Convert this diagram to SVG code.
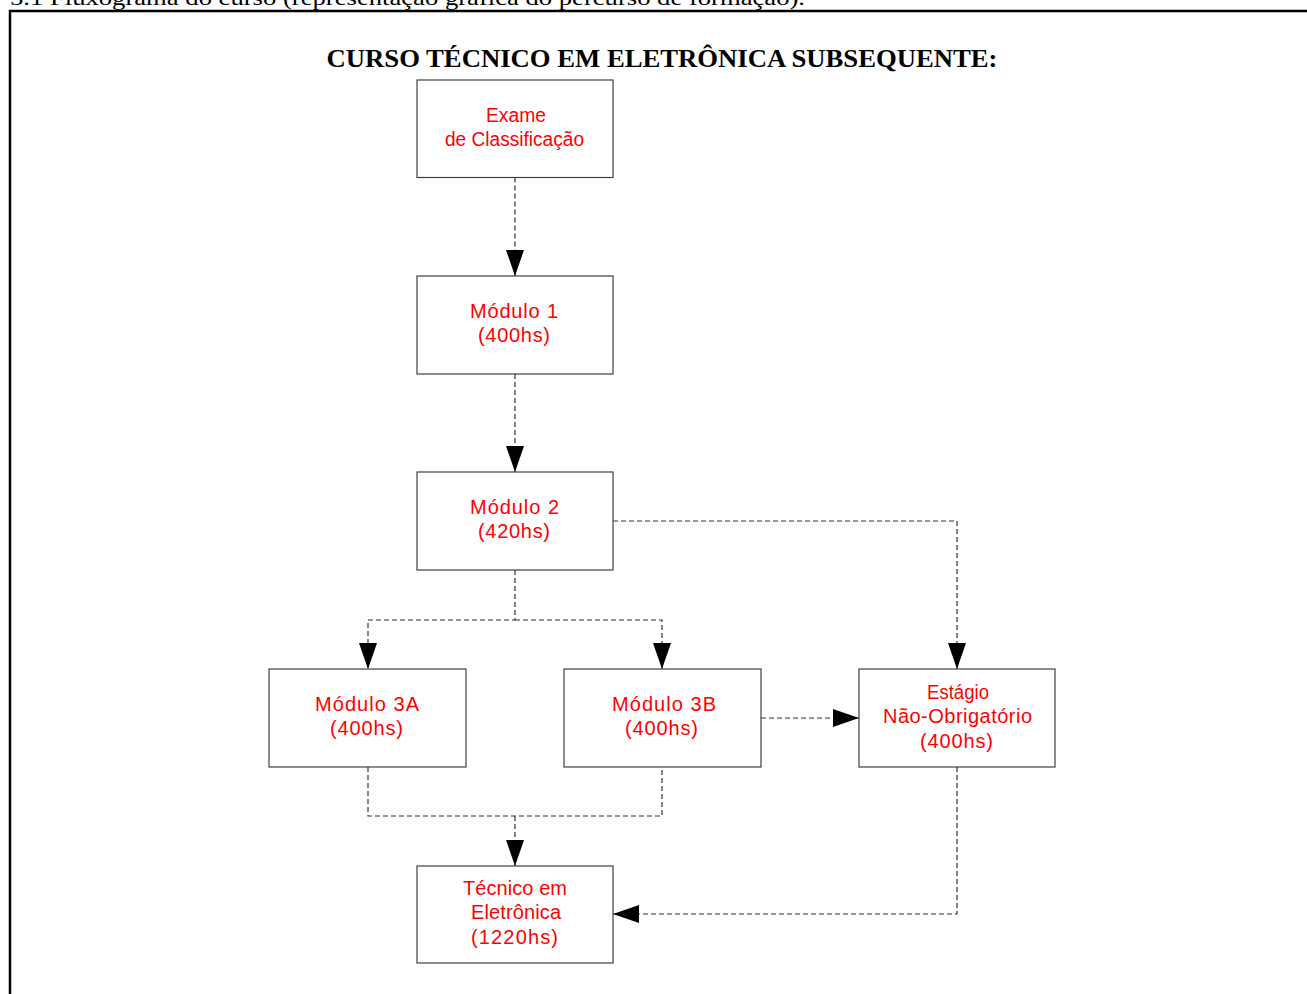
<svg xmlns="http://www.w3.org/2000/svg" width="1307" height="994" viewBox="0 0 1307 994">
<style>
.box{fill:#fff;stroke:#404040;stroke-width:1.2}
.lbl{font-family:"Liberation Sans",Arial,sans-serif;font-size:20px;fill:#ff0000;text-anchor:middle}
.con{fill:none;stroke:#333;stroke-width:1.2;stroke-dasharray:5,3}
</style>
<defs>
<marker id="arr" viewBox="0 0 26 18" refX="26" refY="9" markerWidth="26" markerHeight="18" markerUnits="userSpaceOnUse" orient="auto">
<path d="M0,0 L26,9 L0,18 Z" fill="#000"/>
</marker>
</defs>
<rect width="1307" height="994" fill="#fff"/>
<text x="10" y="5" font-family="'Liberation Serif','Times New Roman',serif" font-size="22" textLength="795" lengthAdjust="spacingAndGlyphs" fill="#000">5.1 Fluxograma do curso (representação gráfica do percurso de formação).</text>
<path d="M10,994 V11 H1307" fill="none" stroke="#000" stroke-width="2.5"/>
<text x="662" y="67" font-family="'Liberation Serif','Times New Roman',serif" font-size="26" font-weight="bold" text-anchor="middle" textLength="671" lengthAdjust="spacingAndGlyphs" fill="#000">CURSO TÉCNICO EM ELETRÔNICA SUBSEQUENTE:</text>
<g id="connectors">
<path class="con" d="M515,177.5 V276" marker-end="url(#arr)"/>
<path class="con" d="M515,374 V472" marker-end="url(#arr)"/>
<path class="con" d="M613,521 H957 V669" marker-end="url(#arr)"/>
<path class="con" d="M515,570 V620 H368 V669" marker-end="url(#arr)"/>
<path class="con" d="M515,620 H662 V669" marker-end="url(#arr)"/>
<path class="con" d="M761,718 H859" marker-end="url(#arr)"/>
<path class="con" d="M368,767 V816 H662 V767"/>
<path class="con" d="M515,816 V866" marker-end="url(#arr)"/>
<path class="con" d="M957,767 V914 H613" marker-end="url(#arr)"/>
</g>
<g id="exame">
<rect class="box" x="417" y="80" width="196" height="97.5"/>
<text class="lbl" x="516" y="122" textLength="60" lengthAdjust="spacingAndGlyphs">Exame</text>
<text class="lbl" x="514.5" y="146" textLength="139" lengthAdjust="spacingAndGlyphs">de Classificação</text>
</g>
<g id="modulo1">
<rect class="box" x="417" y="276" width="196" height="98"/>
<text class="lbl" x="514" y="318" textLength="88">Módulo 1</text>
<text class="lbl" x="514" y="342" textLength="72">(400hs)</text>
</g>
<g id="modulo2">
<rect class="box" x="417" y="472" width="196" height="98"/>
<text class="lbl" x="514.5" y="514" textLength="89">Módulo 2</text>
<text class="lbl" x="514" y="538" textLength="72">(420hs)</text>
</g>
<g id="modulo3a">
<rect class="box" x="269" y="669" width="197" height="98"/>
<text class="lbl" x="367" y="711" textLength="104">Módulo 3A</text>
<text class="lbl" x="366.5" y="735" textLength="73">(400hs)</text>
</g>
<g id="modulo3b">
<rect class="box" x="564" y="669" width="197" height="98"/>
<text class="lbl" x="664" y="711" textLength="104">Módulo 3B</text>
<text class="lbl" x="661.5" y="735" textLength="73">(400hs)</text>
</g>
<g id="estagio">
<rect class="box" x="859" y="669" width="196" height="98"/>
<text class="lbl" x="958" y="699" textLength="62" lengthAdjust="spacingAndGlyphs">Estágio</text>
<text class="lbl" x="957.5" y="723" textLength="149">Não-Obrigatório</text>
<text class="lbl" x="956.5" y="748" textLength="73">(400hs)</text>
</g>
<g id="tecnico">
<rect class="box" x="417" y="866" width="196" height="97"/>
<text class="lbl" x="515" y="895" textLength="104">Técnico em</text>
<text class="lbl" x="516" y="919" textLength="90">Eletrônica</text>
<text class="lbl" x="514.5" y="944" textLength="87">(1220hs)</text>
</g>
</svg>
